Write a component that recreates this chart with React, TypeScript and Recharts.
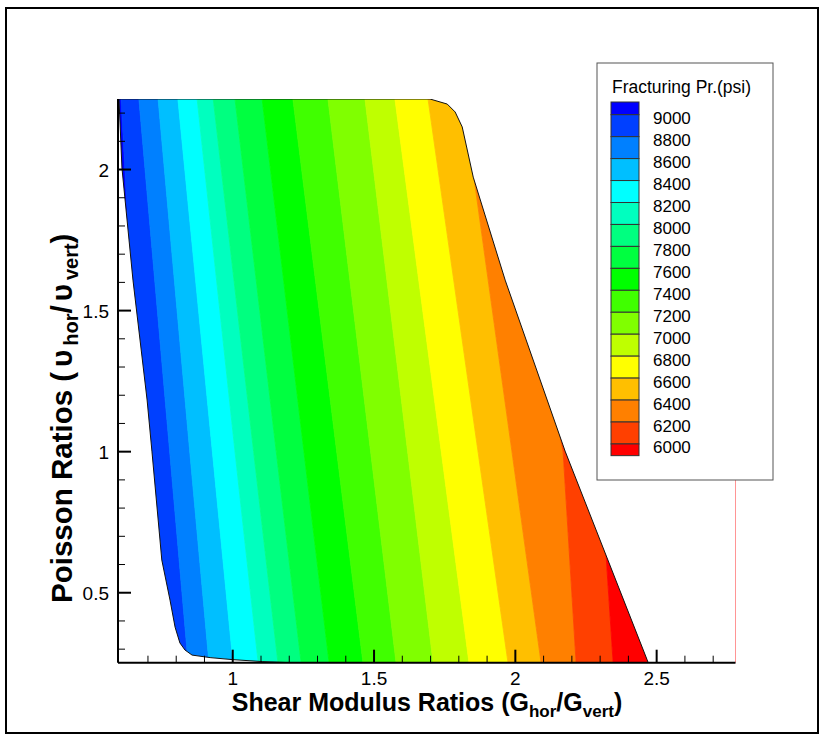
import React from 'react';
import { ComposedChart, Area, Line, XAxis, YAxis } from 'recharts';

// ---------- axes ----------
const xDomain: [number, number] = [0.594, 2.779];
const yDomain: [number, number] = [0.252, 2.25];

const xTicks = [0.7, 0.8, 0.9, 1, 1.1, 1.2, 1.3, 1.4, 1.5, 1.6, 1.7, 1.8, 1.9, 2, 2.1, 2.2, 2.3, 2.4, 2.5, 2.6, 2.7];
const xMajorTicks = [1, 1.5, 2, 2.5];
const xTickLabels = ['1', '1.5', '2', '2.5'];

const yTicks = [0.3, 0.4, 0.5, 0.6, 0.7, 0.8, 0.9, 1, 1.1, 1.2, 1.3, 1.4, 1.5, 1.6, 1.7, 1.8, 1.9, 2, 2.1, 2.2];
const yMajorTicks = [0.5, 1, 1.5, 2];
const yTickLabels = ['0.5', '1', '1.5', '2'];

// ---------- legend ----------
const legendTitle = 'Fracturing Pr.(psi)';
const legendLevels = ['9000', '8800', '8600', '8400', '8200', '8000', '7800', '7600', '7400', '7200', '7000', '6800', '6600', '6400', '6200', '6000'];
const bandColors = [
  '#0000ff', '#0040ff', '#0080ff', '#00bfff', '#00ffff', '#00ffbf', '#00ff80', '#00ff40', '#00ff00',
  '#40ff00', '#80ff00', '#bfff00', '#ffff00', '#ffbf00', '#ff8000', '#ff4000', '#ff0000',
];

// ---------- contour lines (x of each level boundary at rows of y) ----------
const contourRowY = [2.25, 1.0, 0.252];
const contour9000 = [0.605, 0.672, 0.707];
const contour8800 = [0.668, 0.777, 0.842];
const contour8600 = [0.736, 0.848, 0.916];
const contour8400 = [0.806, 0.928, 1.001];
const contour8200 = [0.874, 1.008, 1.09];
const contour8000 = [0.931, 1.074, 1.16];
const contour7800 = [1.008, 1.154, 1.242];
const contour7600 = [1.104, 1.252, 1.341];
const contour7400 = [1.213, 1.368, 1.461];
const contour7200 = [1.337, 1.488, 1.578];
const contour7000 = [1.468, 1.619, 1.709];
const contour6800 = [1.574, 1.738, 1.836];
const contour6600 = [1.691, 1.868, 1.974];
const contour6400 = [1.815, 1.988, 2.091];
const contour6200 = [1.939, 2.169, 2.215];
const contour6000 = [2.07, 2.297, 2.346];
const contourLines = [
  contour9000, contour8800, contour8600, contour8400, contour8200, contour8000, contour7800, contour7600,
  contour7400, contour7200, contour7000, contour6800, contour6600, contour6400, contour6200, contour6000,
];

// ---------- domain boundary ----------
const leftEdgeY = [2.25, 2.005, 1.608, 1.183, 1.002, 0.616, 0.474, 0.378, 0.322, 0.297, 0.279, 0.27, 0.263, 0.256, 0.252];
const leftEdgeX = [0.5975, 0.608, 0.647, 0.697, 0.714, 0.749, 0.778, 0.796, 0.813, 0.831, 0.856, 0.92, 0.998, 1.104, 1.203];
const rightEdgeY = [2.25, 2.232, 2.204, 2.151, 1.973, 1.608, 1.002, 0.263, 0.252];
const rightEdgeX = [1.698, 1.759, 1.787, 1.812, 1.851, 1.964, 2.176, 2.466, 2.47];

const bandRows = contourRowY.map((y, i) => {
  const row: Record<string, number> = { y, b0: xDomain[0], b17: xDomain[1] };
  contourLines.forEach((c, k) => {
    row['b' + (k + 1)] = c[i];
  });
  return row;
});
const leftRows = leftEdgeY.map((y, i) => ({ y, x: leftEdgeX[i] }));
const rightRows = rightEdgeY.map((y, i) => ({ y, x: rightEdgeX[i] }));
const outlineRows = [...leftRows].reverse().concat(rightRows);

const FONT = "'Liberation Sans', Arial, sans-serif";

const isIn = (v: number, arr: number[]) => arr.findIndex((a) => Math.abs(a - v) < 1e-6);

const XTick = (props: any) => {
  const { x, y, payload } = props;
  const idx = isIn(payload.value, xMajorTicks);
  const major = idx >= 0;
  return (
    <g>
      <line x1={x} x2={x} y1={y} y2={y - (major ? 13 : 7)} stroke="#000" strokeWidth={major ? 2 : 1} />
      {major && (
        <text x={x} y={y + 22} textAnchor="middle" fontSize={19} fontFamily={FONT} fill="#000">
          {xTickLabels[idx]}
        </text>
      )}
    </g>
  );
};

const YTick = (props: any) => {
  const { x, y, payload } = props;
  const idx = isIn(payload.value, yMajorTicks);
  const major = idx >= 0;
  return (
    <g>
      <line x1={x} x2={x + (major ? 13 : 7)} y1={y} y2={y} stroke="#000" strokeWidth={major ? 2 : 1} />
      {major && (
        <text x={x - 9} y={y + 7} textAnchor="end" fontSize={19} fontFamily={FONT} fill="#000">
          {yTickLabels[idx]}
        </text>
      )}
    </g>
  );
};

const Legend = () => {
  const boxX = 15;
  const boxW = 28;
  const first = 52.7;
  const step = 21.95;
  const boxes = bandColors.map((c, k) => {
    let y0: number;
    let y1: number;
    if (k === 0) {
      y0 = 40;
      y1 = first;
    } else if (k === bandColors.length - 1) {
      y0 = first + step * (k - 1);
      y1 = y0 + 11.7;
    } else {
      y0 = first + step * (k - 1);
      y1 = y0 + step;
    }
    return <rect key={k} x={boxX} y={y0} width={boxW} height={y1 - y0} fill={c} stroke="#333" strokeWidth={1} />;
  });
  return (
    <svg width={178} height={419} style={{ position: 'absolute', left: 596, top: 62 }}>
      <rect x={1} y={1} width={176} height={417} fill="#fff" stroke="#555" strokeWidth={1} />
      <text x={16} y={30.5} fontSize={17.5} fontFamily={FONT} fill="#000">
        {legendTitle}
      </text>
      {boxes}
      {legendLevels.map((l, k) => (
        <text key={l} x={57} y={first + step * k + 9.5} fontSize={17} fontFamily={FONT} fill="#000">
          {l}
        </text>
      ))}
    </svg>
  );
};

const Titles = () => (
  <svg width={824} height={740} style={{ position: 'absolute', left: 0, top: 0, pointerEvents: 'none' }}>
    <text x={427} y={711} textAnchor="middle" fontSize={25} fontWeight="bold" fontFamily={FONT} fill="#000">
      <tspan>Shear Modulus Ratios (G</tspan>
      <tspan dy={6} fontSize={17}>hor</tspan>
      <tspan dy={-6}>/G</tspan>
      <tspan dy={6} fontSize={17}>vert</tspan>
      <tspan dy={-6}>)</tspan>
    </text>
    <text
      x={0}
      y={0}
      transform="translate(72 603) rotate(-90)"
      textAnchor="start"
      fontSize={29.5}
      fontWeight="bold"
      fontFamily={FONT}
      fill="#000"
    >
      <tspan>Poisson Ratios (</tspan>
      <tspan dx={5}>υ</tspan>
      <tspan dx={4} dy={6} fontSize={20}>hor</tspan>
      <tspan dy={-6}>/</tspan>
      <tspan dx={4}>υ</tspan>
      <tspan dx={4} dy={6} fontSize={20}>vert</tspan>
      <tspan dy={-6}>)</tspan>
    </text>
  </svg>
);

export default function App() {
  return (
    <div style={{ position: 'absolute', left: 0, top: 0, width: 824, height: 740, background: '#fff' }}>
      <div style={{ position: 'absolute', left: 0, top: 0 }}>
        <ComposedChart
          width={824}
          height={740}
          layout="vertical"
          margin={{ top: 99, left: 58, right: 88.5, bottom: 37.3 }}
        >
          <XAxis
            type="number"
            domain={xDomain}
            allowDataOverflow
            ticks={xTicks}
            interval={0}
            tickLine={false}
            tickSize={0}
            tickMargin={0}
            height={40}
            axisLine={{ stroke: '#000', strokeWidth: 2 }}
            tick={(p: any) => <XTick {...p} />}
          />
          <YAxis
            type="number"
            dataKey="y"
            domain={yDomain}
            reversed
            allowDataOverflow
            ticks={yTicks}
            interval={0}
            tickLine={false}
            tickSize={0}
            tickMargin={0}
            width={60}
            axisLine={{ stroke: '#000', strokeWidth: 2 }}
            tick={(p: any) => <YTick {...p} />}
          />
          {bandColors.map((c, k) => (
            <Area
              key={'band' + k}
              data={bandRows}
              type="linear"
              dataKey={(r: any) => [r['b' + k], r['b' + (k + 1)]]}
              fill={c}
              fillOpacity={1}
              stroke={c}
              strokeWidth={0.8}
              isAnimationActive={false}
              activeDot={false}
            />
          ))}
          <Area
            data={leftRows}
            type="linear"
            dataKey="x"
            baseValue="dataMin"
            fill="#fff"
            fillOpacity={1}
            stroke="none"
            isAnimationActive={false}
            activeDot={false}
          />
          <Area
            data={rightRows}
            type="linear"
            dataKey="x"
            baseValue="dataMax"
            fill="#fff"
            fillOpacity={1}
            stroke="none"
            isAnimationActive={false}
            activeDot={false}
          />
          <Line
            data={outlineRows}
            type="linear"
            dataKey="x"
            stroke="#111"
            strokeWidth={1}
            dot={false}
            activeDot={false}
            isAnimationActive={false}
          />
        </ComposedChart>
      </div>
      <Titles />
      <Legend />
      <div
        style={{
          position: 'absolute',
          left: 5,
          top: 7,
          width: 814,
          height: 727,
          boxSizing: 'border-box',
          border: '2px solid #000',
          pointerEvents: 'none',
        }}
      />
    </div>
  );
}
